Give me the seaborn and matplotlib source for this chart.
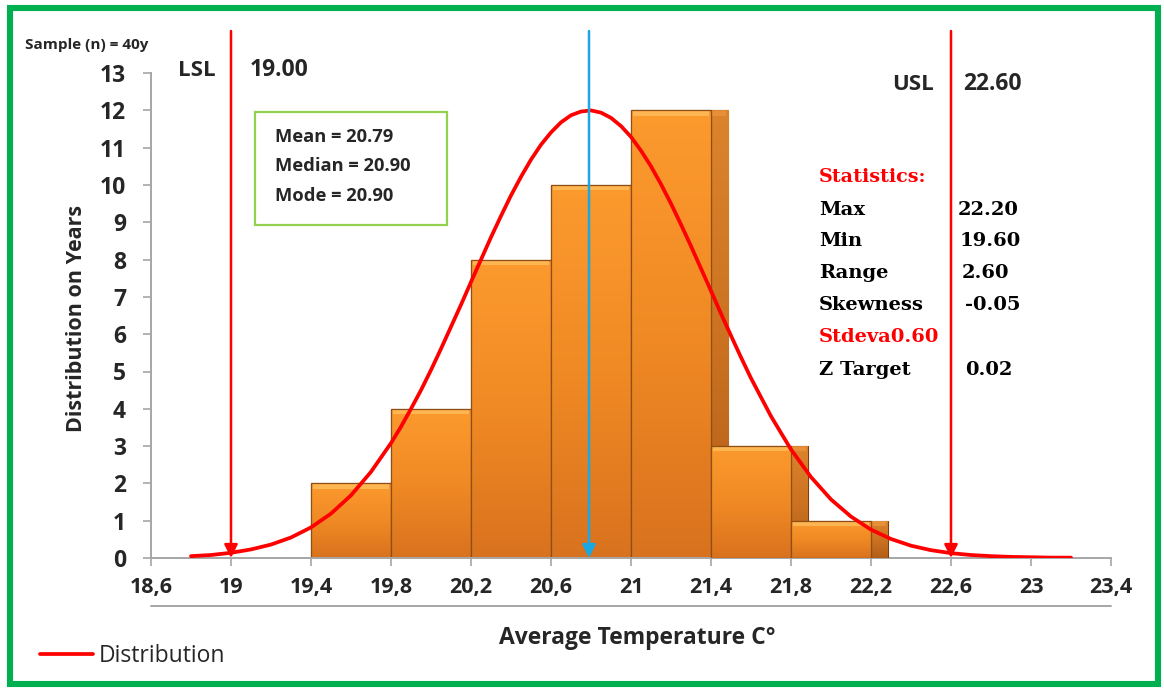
import numpy as np
import matplotlib
matplotlib.use("Agg")
import matplotlib.pyplot as plt
import seaborn as sns
from matplotlib.patches import Rectangle
from matplotlib.colors import LinearSegmentedColormap
from matplotlib.lines import Line2D

# ---------------- data ----------------
bin_edges = [19.4, 19.8, 20.2, 20.6, 21.0, 21.4, 21.8]
bin_counts = [2, 4, 8, 10, 12, 3, 1]

curve_x = [18.8, 18.9, 19.0, 19.1, 19.2, 19.3, 19.4, 19.5, 19.6, 19.7, 19.8, 19.85, 19.9, 19.95,
           20.0, 20.05, 20.1, 20.15, 20.2, 20.25, 20.3, 20.35, 20.4, 20.45, 20.5, 20.55,
           20.6, 20.65, 20.7, 20.75, 20.8, 20.85, 20.9, 20.95, 21.0, 21.05, 21.1, 21.15,
           21.2, 21.25, 21.3, 21.35, 21.4, 21.45, 21.5, 21.55, 21.6, 21.7, 21.8, 21.9,
           22.0, 22.1, 22.2, 22.3, 22.4, 22.5, 22.6, 22.7, 22.8, 22.9, 23.0, 23.1, 23.2]
curve_y = [0.05, 0.08, 0.14, 0.23, 0.36, 0.55, 0.82, 1.19, 1.68, 2.31, 3.08, 3.52, 4.00, 4.50,
           5.04, 5.61, 6.20, 6.79, 7.40, 8.00, 8.60, 9.17, 9.72, 10.22, 10.68, 11.08,
           11.41, 11.68, 11.87, 11.97, 12.00, 11.94, 11.80, 11.58, 11.29, 10.92, 10.50, 10.02,
           9.50, 8.94, 8.36, 7.76, 7.16, 6.55, 5.96, 5.38, 4.82, 3.80, 2.91, 2.17,
           1.57, 1.11, 0.76, 0.51, 0.33, 0.21, 0.13, 0.08, 0.05, 0.03, 0.02, 0.01, 0.01]

lsl = 19.00
usl = 22.60
mean_value = 20.79

xtick_values = [18.6, 19.0, 19.4, 19.8, 20.2, 20.6, 21.0, 21.4, 21.8, 22.2, 22.6, 23.0, 23.4]
xtick_labels = ["18,6", "19", "19,4", "19,8", "20,2", "20,6", "21", "21,4", "21,8",
                "22,2", "22,6", "23", "23,4"]
ytick_values = list(range(0, 14))

center_stats = ["Mean = 20.79", "Median = 20.90", "Mode = 20.90"]
stat_names = ["Max", "Min", "Range", "Skewness", "Stdeva0.60", "Z Target"]
stat_values = ["22.20", "19.60", "2.60", "-0.05", "", "0.02"]
stat_colors = ["black", "black", "black", "black", "#FF0000", "black"]

# ---------------- style ----------------
sns.set_theme(style="white")
plt.rcParams['font.family'] = ['Open Sans', 'DejaVu Sans']

W, H = 1164, 688
fig = plt.figure(figsize=(W / 100, H / 100), dpi=100)

px_left, px_right = 151, 1111
py_zero = 558
px_per_y = 37.3
y_top = 14.2
py_top = py_zero - y_top * px_per_y
ax = fig.add_axes([px_left / W, (H - py_zero) / H, (px_right - px_left) / W, (py_zero - py_top) / H])

x_lo, x_hi = 18.6, 23.4


def dx(px):
    return x_lo + (px - px_left) * (x_hi - x_lo) / (px_right - px_left)


def dy(py):
    return (py_zero - py) / px_per_y


# ---------------- bars with gradient/bevel ----------------
bar_w = 0.4
side_w = 0.085
face_cmap = LinearSegmentedColormap.from_list("face", ["#D9721E", "#F08A24", "#FC9A2E"])
side_cmap = LinearSegmentedColormap.from_list("side", ["#B35E18", "#CC7322", "#DC832C"])
grad = np.linspace(0, 1, 256).reshape(-1, 1)

bars = ax.bar(bin_edges, bin_counts, width=bar_w, align='edge', color="#F39433",
              edgecolor="#8F4E16", linewidth=0.8)
sides = ax.bar([e + bar_w for e in bin_edges], bin_counts, width=side_w, align='edge',
               color="#D47A28", edgecolor="#7A4012", linewidth=0.8)

for i, (b, s) in enumerate(zip(bars, sides)):
    z = 2 + i * 0.1
    s.set_zorder(z)
    b.set_zorder(z + 0.02)
    x0, h = b.get_x(), b.get_height()
    im = ax.imshow(grad, cmap=face_cmap, origin='lower', aspect='auto',
                   extent=[x0, x0 + bar_w, 0, h], zorder=z + 0.03, interpolation='bicubic')
    im.set_clip_path(b)
    im2 = ax.imshow(grad, cmap=side_cmap, origin='lower', aspect='auto',
                    extent=[x0 + bar_w, x0 + bar_w + side_w, 0, h], zorder=z + 0.01,
                    interpolation='bicubic')
    im2.set_clip_path(s)
    ax.add_patch(Rectangle((x0 + 0.01, h - 0.14), bar_w - 0.02, 0.12,
                           facecolor="#FFBE5C", edgecolor='none', alpha=0.8, zorder=z + 0.04))
    ax.add_patch(Rectangle((x0 + bar_w, h - 0.14), side_w - 0.01, 0.12,
                           facecolor="#EE9A45", edgecolor='none', alpha=0.6, zorder=z + 0.015))
    ax.add_patch(Rectangle((x0, 0), bar_w, h, facecolor='none', edgecolor="#8F4E16",
                           linewidth=0.9, zorder=z + 0.05))

# ---------------- distribution curve ----------------
sns.lineplot(x=curve_x, y=curve_y, ax=ax, color="#FF0000", linewidth=2.7, sort=False,
             zorder=5, label="Distribution")

# ---------------- limit / mean lines ----------------
line_top = dy(31)
for xv, col in [(lsl, "#FF0000"), (usl, "#FF0000"), (mean_value, "#1AA7E2")]:
    ax.annotate("", xy=(xv, 0.0), xytext=(xv, line_top),
                arrowprops=dict(arrowstyle='-|>', color=col, lw=1.8, mutation_scale=20,
                                shrinkA=0, shrinkB=0),
                annotation_clip=False, zorder=6)

# ---------------- axes ----------------
ax.set_xlim(x_lo, x_hi)
ax.set_ylim(0, y_top)
ax.set_xticks(xtick_values)
ax.set_xticklabels(xtick_labels, fontsize=15.5, fontweight='bold')
ax.set_yticks(ytick_values)
ax.set_yticklabels([str(v) for v in ytick_values], fontsize=16.5, fontweight='bold')
for sp in ['top', 'right']:
    ax.spines[sp].set_visible(False)
for sp in ['left', 'bottom']:
    ax.spines[sp].set_color("#A6A6A6")
    ax.spines[sp].set_linewidth(1.4)
ax.spines['left'].set_bounds(0, 13)
ax.tick_params(axis='both', which='both', direction='out', length=6, width=1.2,
               color="#A6A6A6", left=True, bottom=True)
ax.tick_params(axis='y', pad=12)
ax.tick_params(axis='x', pad=8)
ax.grid(False)

ax.set_xlabel("Average Temperature C°", fontsize=16.5, fontweight='bold')
ax.set_ylabel("Distribution on Years", fontsize=15.5, fontweight='bold')
ax.xaxis.set_label_coords((637 - px_left) / (px_right - px_left), (py_zero - 626) / (py_zero - py_top))
ax.yaxis.set_label_coords((87 - px_left) / (px_right - px_left), (py_zero - 318) / (py_zero - py_top))

ax.add_line(Line2D([0, 1], [(py_zero - 606) / (py_zero - py_top)] * 2, transform=ax.transAxes,
                   color="#A6A6A6", lw=1.4, clip_on=False))

# ---------------- annotations ----------------
fig.text(25 / W, 1 - 45 / H, "Sample (n) = 40y", fontsize=11, fontweight='bold', va='center', ha='left')
ax.text(dx(197), dy(70), "LSL", fontsize=16, fontweight='bold', ha='center', va='center')
ax.text(dx(250), dy(70), f"{lsl:.2f}", fontsize=16.5, fontweight='bold', ha='left', va='center')
ax.text(dx(913), dy(84), "USL", fontsize=16, fontweight='bold', ha='center', va='center')
ax.text(dx(963), dy(84), f"{usl:.2f}", fontsize=16.5, fontweight='bold', ha='left', va='center')

ax.add_patch(Rectangle((dx(255), dy(225)), dx(447) - dx(255), dy(112) - dy(225),
                       facecolor='white', edgecolor="#92D050", linewidth=1.6, zorder=7))
for txt, py in zip(center_stats, [137, 166, 196]):
    ax.text(dx(275), dy(py), txt, fontsize=13.2, fontweight='bold', ha='left', va='center', zorder=8)

serif = ['DejaVu Serif']
ax.text(dx(819), dy(177), "Statistics:", fontsize=13.8, fontweight='bold', color="#FF0000",
        ha='left', va='center', family=serif, zorder=8)
stat_py = [210, 241, 273, 305, 337, 370]
val_px = [958, 960, 962, 965, 965, 965]
for name, val, col, py, vpx in zip(stat_names, stat_values, stat_colors, stat_py, val_px):
    ax.text(dx(819), dy(py), name, fontsize=14, fontweight='bold', color=col,
            ha='left', va='center', family=serif, zorder=8)
    if val:
        ax.text(dx(vpx), dy(py), val, fontsize=14, fontweight='bold', color='black',
                ha='left', va='center', family=serif, zorder=8)

leg = ax.legend(loc='center left', bbox_to_anchor=(40 / W, 1 - 656 / H), bbox_transform=fig.transFigure,
                frameon=False, fontsize=16.5, handlelength=2.3, handletextpad=0.25,
                borderpad=0, borderaxespad=0)

fig.add_artist(Rectangle((10 / W, 1 - 684 / H), (1158 - 10) / W, (684 - 8) / H,
                         transform=fig.transFigure, facecolor='none', edgecolor="#00B050",
                         linewidth=4.4))

fig.savefig("out.png", dpi=100)
